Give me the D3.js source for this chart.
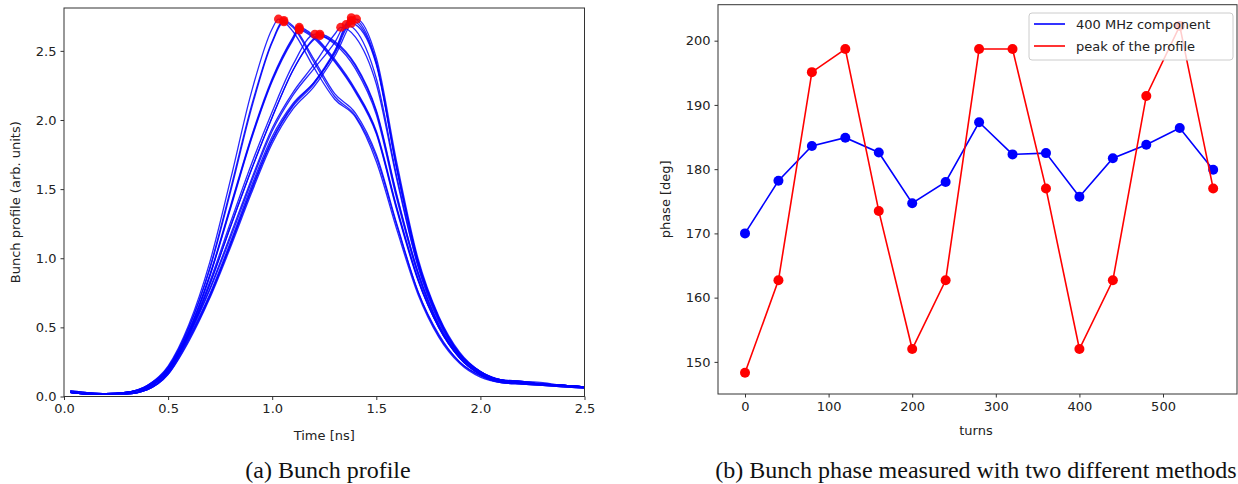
<!DOCTYPE html>
<html>
<head>
<meta charset="utf-8">
<script src="https://cdn.jsdelivr.net/npm/d3@7"></script>
<style>
  body { margin: 0; background: #fff; }
  svg { display: block; }
  .tick text { font-family: "DejaVu Sans", sans-serif; font-size: 13px; fill: #222; }
  .label { font-family: "DejaVu Sans", sans-serif; font-size: 13px; fill: #222; }
  .caption { font-family: "Liberation Serif", "Times New Roman", serif; font-size: 24px; fill: #111; }
</style>
</head>
<body>
<svg width="1238" height="484"></svg>
<script>
// ---- data: right panel (phase vs turns)
const turns = [0, 40, 80, 120, 160, 200, 240, 280, 320, 360, 400, 440, 480, 520, 560];
const phase400 = [170.0, 178.2, 183.6, 184.9, 182.6, 174.7, 178.0, 187.3, 182.3, 182.5, 175.7, 181.7, 183.8, 186.4, 179.9];
const phasePeak = [148.3, 162.7, 195.1, 198.7, 173.5, 152.0, 162.7, 198.7, 198.7, 177.0, 152.0, 162.7, 191.4, 202.3, 177.0];
const legendLabels = ['400 MHz component', 'peak of the profile'];

// ---- data: left panel (bunch profiles, one row per turn)
const profileTime = [0.03, 0.1, 0.2, 0.3, 0.4, 0.5, 0.6, 0.7, 0.8, 0.9, 1.0, 1.1, 1.2, 1.3,
  1.4, 1.5, 1.6, 1.7, 1.8, 1.9, 2.0, 2.1, 2.2, 2.3, 2.4, 2.5];
const profiles = [
  [0.04, 0.03, 0.02, 0.03, 0.08, 0.22, 0.52, 0.97, 1.57, 2.20, 2.66, 2.64, 2.38, 2.15, 2.02, 1.70, 1.20, 0.74, 0.43, 0.24, 0.14, 0.10, 0.09, 0.08, 0.07, 0.06],
  [0.03, 0.02, 0.02, 0.03, 0.07, 0.20, 0.48, 0.88, 1.38, 1.88, 2.30, 2.60, 2.61, 2.44, 2.22, 1.92, 1.36, 0.85, 0.50, 0.28, 0.16, 0.11, 0.10, 0.09, 0.08, 0.07],
  [0.03, 0.02, 0.02, 0.02, 0.06, 0.18, 0.44, 0.77, 1.15, 1.55, 1.92, 2.18, 2.37, 2.56, 2.65, 2.30, 1.58, 0.95, 0.55, 0.30, 0.17, 0.12, 0.10, 0.09, 0.08, 0.07],
  [0.03, 0.02, 0.02, 0.02, 0.05, 0.17, 0.42, 0.73, 1.10, 1.50, 1.86, 2.11, 2.27, 2.50, 2.73, 2.42, 1.64, 0.98, 0.57, 0.31, 0.18, 0.12, 0.11, 0.09, 0.08, 0.07],
  [0.03, 0.02, 0.02, 0.03, 0.07, 0.19, 0.46, 0.83, 1.26, 1.68, 2.06, 2.40, 2.61, 2.55, 2.37, 2.04, 1.42, 0.88, 0.51, 0.28, 0.16, 0.11, 0.10, 0.09, 0.08, 0.07],
  [0.04, 0.03, 0.02, 0.03, 0.08, 0.21, 0.50, 0.93, 1.50, 2.10, 2.57, 2.68, 2.44, 2.19, 2.05, 1.75, 1.24, 0.76, 0.44, 0.25, 0.15, 0.10, 0.09, 0.08, 0.07, 0.06],
  [0.03, 0.02, 0.02, 0.03, 0.07, 0.20, 0.47, 0.87, 1.36, 1.86, 2.28, 2.58, 2.59, 2.42, 2.20, 1.90, 1.34, 0.84, 0.50, 0.28, 0.16, 0.11, 0.10, 0.09, 0.08, 0.07],
  [0.03, 0.02, 0.02, 0.02, 0.05, 0.17, 0.43, 0.74, 1.12, 1.52, 1.88, 2.12, 2.27, 2.48, 2.69, 2.40, 1.63, 0.97, 0.56, 0.31, 0.18, 0.12, 0.11, 0.09, 0.08, 0.07],
  [0.03, 0.02, 0.02, 0.02, 0.05, 0.16, 0.41, 0.72, 1.10, 1.49, 1.85, 2.10, 2.26, 2.49, 2.71, 2.41, 1.65, 0.98, 0.57, 0.31, 0.18, 0.12, 0.10, 0.09, 0.08, 0.07],
  [0.03, 0.02, 0.02, 0.03, 0.06, 0.19, 0.45, 0.81, 1.23, 1.64, 2.02, 2.36, 2.59, 2.57, 2.40, 2.07, 1.45, 0.90, 0.52, 0.29, 0.16, 0.11, 0.10, 0.09, 0.08, 0.07],
  [0.04, 0.03, 0.02, 0.03, 0.08, 0.21, 0.50, 0.92, 1.48, 2.08, 2.56, 2.67, 2.42, 2.17, 2.03, 1.73, 1.23, 0.76, 0.45, 0.25, 0.15, 0.10, 0.09, 0.08, 0.07, 0.06],
  [0.03, 0.02, 0.02, 0.03, 0.07, 0.20, 0.47, 0.87, 1.37, 1.87, 2.29, 2.59, 2.60, 2.43, 2.21, 1.91, 1.35, 0.85, 0.50, 0.28, 0.16, 0.11, 0.10, 0.09, 0.08, 0.07],
  [0.03, 0.02, 0.02, 0.02, 0.06, 0.18, 0.45, 0.78, 1.17, 1.57, 1.94, 2.20, 2.40, 2.62, 2.60, 2.26, 1.56, 0.94, 0.54, 0.30, 0.17, 0.12, 0.10, 0.09, 0.08, 0.07],
  [0.03, 0.02, 0.02, 0.02, 0.05, 0.16, 0.40, 0.71, 1.08, 1.47, 1.83, 2.08, 2.24, 2.46, 2.72, 2.45, 1.68, 1.00, 0.58, 0.32, 0.18, 0.12, 0.11, 0.10, 0.08, 0.07],
  [0.03, 0.02, 0.02, 0.03, 0.06, 0.19, 0.45, 0.81, 1.23, 1.64, 2.02, 2.36, 2.58, 2.56, 2.39, 2.06, 1.44, 0.90, 0.52, 0.29, 0.16, 0.11, 0.10, 0.09, 0.08, 0.07]
];
const peakTime = [1.03, 1.13, 1.355, 1.38, 1.205, 1.056, 1.13, 1.38, 1.38, 1.229, 1.056, 1.13, 1.329, 1.405, 1.229];
const peakValue = [2.73, 2.67, 2.69, 2.74, 2.62, 2.72, 2.65, 2.70, 2.72, 2.62, 2.71, 2.66, 2.67, 2.73, 2.61];

const timeTicks = [0, 0.5, 1.0, 1.5, 2.0, 2.5];
const profileTicks = [0, 0.5, 1.0, 1.5, 2.0, 2.5];
const turnTicks = [0, 100, 200, 300, 400, 500];
const phaseTicks = [150, 160, 170, 180, 190, 200];

const svg = d3.select('svg');

// ================= left panel =================
const xL = d3.scaleLinear().domain([0, 2.5]).range([64, 584.5]);
const yL = d3.scaleLinear().domain([0, 2.81]).range([396.5, 8]);

const left = svg.append('g');

// one line per profile, peak point merged in
const profLine = d3.line()
  .x(d => xL(d[0]))
  .y(d => yL(d[1]))
  .curve(d3.curveMonotoneX);

profiles.forEach((row, i) => {
  const pts = row.map((v, j) => [profileTime[j], v])
    .filter(p => Math.abs(p[0] - peakTime[i]) > 0.015);
  pts.push([peakTime[i], peakValue[i]]);
  pts.sort((a, b) => a[0] - b[0]);
  left.append('path')
    .attr('d', profLine(pts))
    .attr('fill', 'none')
    .attr('stroke', '#0000ff')
    .attr('stroke-opacity', 0.85)
    .attr('stroke-width', 1.3);
});

left.selectAll('circle.peak')
  .data(peakTime)
  .enter().append('circle')
  .attr('class', 'peak')
  .attr('cx', d => xL(d))
  .attr('cy', (d, i) => yL(peakValue[i]))
  .attr('r', 4.5)
  .attr('fill', '#ff0000')
  .attr('fill-opacity', 0.85);

// frame
left.append('rect')
  .attr('x', xL(0)).attr('y', yL(2.81))
  .attr('width', xL(2.5) - xL(0)).attr('height', yL(0) - yL(2.81))
  .attr('fill', 'none').attr('stroke', '#333').attr('stroke-width', 1);

left.append('g')
  .attr('transform', `translate(0,${yL(0)})`)
  .call(d3.axisBottom(xL).tickValues(timeTicks).tickFormat(d3.format('.1f')).tickSize(3.5).tickPadding(4))
  .call(g => g.select('.domain').remove())
  .call(g => g.selectAll('.tick line').attr('stroke', '#333'));

left.append('g')
  .attr('transform', `translate(${xL(0)},0)`)
  .call(d3.axisLeft(yL).tickValues(profileTicks).tickFormat(d3.format('.1f')).tickSize(3.5).tickPadding(4))
  .call(g => g.select('.domain').remove())
  .call(g => g.selectAll('.tick line').attr('stroke', '#333'));

left.append('text').attr('class', 'label')
  .attr('x', (xL(0) + xL(2.5)) / 2).attr('y', 440)
  .attr('text-anchor', 'middle').text('Time [ns]');

left.append('text').attr('class', 'label')
  .attr('transform', `translate(20,${(yL(0) + yL(2.81)) / 2}) rotate(-90)`)
  .attr('text-anchor', 'middle').text('Bunch profile (arb. units)');

left.append('text').attr('class', 'caption')
  .attr('x', 328).attr('y', 478)
  .attr('text-anchor', 'middle').text('(a) Bunch profile');

// ================= right panel =================
const xR = d3.scaleLinear().domain([-32.3, 588.5]).range([718, 1237]);
const yR = d3.scaleLinear().domain([145, 205.6]).range([394, 4.7]);

const right = svg.append('g');

const phaseLine = d3.line()
  .x((d, i) => xR(turns[i]))
  .y(d => yR(d));

const series = [
  { values: phase400, color: '#0000ff' },
  { values: phasePeak, color: '#ff0000' }
];

series.forEach(s => {
  right.append('path')
    .attr('d', phaseLine(s.values))
    .attr('fill', 'none')
    .attr('stroke', s.color)
    .attr('stroke-width', 1.6);
  right.selectAll(null)
    .data(s.values)
    .enter().append('circle')
    .attr('cx', (d, i) => xR(turns[i]))
    .attr('cy', d => yR(d))
    .attr('r', 5)
    .attr('fill', s.color);
});

right.append('rect')
  .attr('x', xR(-32.3)).attr('y', yR(205.6))
  .attr('width', xR(588.5) - xR(-32.3)).attr('height', yR(145) - yR(205.6))
  .attr('fill', 'none').attr('stroke', '#333').attr('stroke-width', 1);

right.append('g')
  .attr('transform', `translate(0,${yR(145)})`)
  .call(d3.axisBottom(xR).tickValues(turnTicks).tickFormat(d3.format('d')).tickSize(3.5).tickPadding(4))
  .call(g => g.select('.domain').remove())
  .call(g => g.selectAll('.tick line').attr('stroke', '#333'));

right.append('g')
  .attr('transform', `translate(${xR(-32.3)},0)`)
  .call(d3.axisLeft(yR).tickValues(phaseTicks).tickFormat(d3.format('d')).tickSize(3.5).tickPadding(4))
  .call(g => g.select('.domain').remove())
  .call(g => g.selectAll('.tick line').attr('stroke', '#333'));

right.append('text').attr('class', 'label')
  .attr('x', 976).attr('y', 435)
  .attr('text-anchor', 'middle').text('turns');

right.append('text').attr('class', 'label')
  .attr('transform', `translate(670,${(yR(145) + yR(205.6)) / 2}) rotate(-90)`)
  .attr('text-anchor', 'middle').text('phase [deg]');

// legend
const lg = right.append('g').attr('transform', 'translate(1029,13)');
lg.append('rect')
  .attr('width', 204).attr('height', 47).attr('rx', 3)
  .attr('fill', '#fff').attr('fill-opacity', 0.8)
  .attr('stroke', '#ccc');
legendLabels.forEach((lab, i) => {
  const yy = 11 + i * 22;
  lg.append('line')
    .attr('x1', 5).attr('x2', 36).attr('y1', yy).attr('y2', yy)
    .attr('stroke', series[i].color).attr('stroke-width', 1.6);
  lg.append('text').attr('class', 'label')
    .attr('x', 47).attr('y', yy + 4.5).text(lab);
});

right.append('text').attr('class', 'caption')
  .attr('x', 976).attr('y', 478)
  .attr('text-anchor', 'middle').text('(b) Bunch phase measured with two different methods');
</script>
</body>
</html>
